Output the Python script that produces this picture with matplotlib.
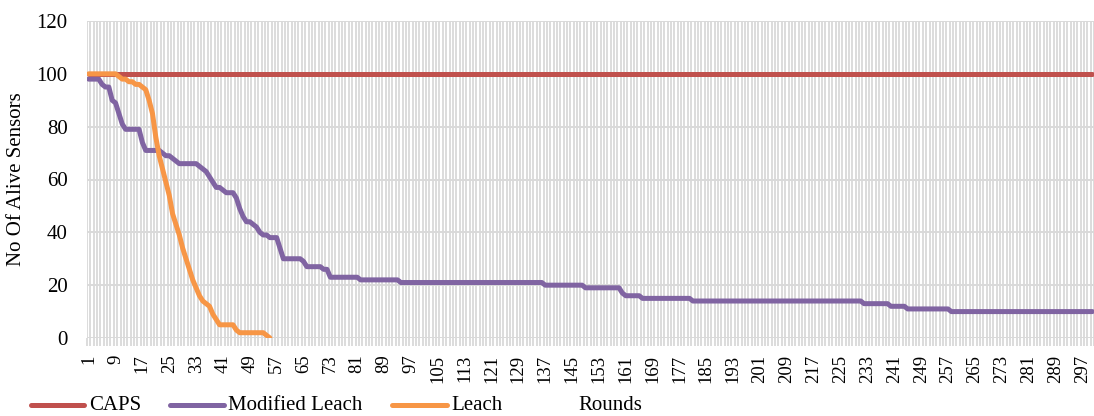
import numpy as np
import matplotlib
matplotlib.use("Agg")
import matplotlib.pyplot as plt
from matplotlib.lines import Line2D

# ---- data ----
n_rounds = 300
rounds = np.arange(1, n_rounds + 1)

caps_level = 100

# Modified Leach: step levels and how many rounds each level lasts
mod_leach_levels = [98, 96, 95, 90, 89, 85, 81, 79, 74, 71, 70, 69, 68, 67, 66, 65, 64, 63, 61,
                    59, 57, 56, 55, 53, 49, 46, 44, 43, 42, 40, 39, 38, 34, 30, 29, 27, 26, 23,
                    22, 21, 20, 19, 17, 16, 15, 14, 13, 12, 11, 10]
mod_leach_runs = [4, 1, 2, 1, 1, 1, 1, 5, 1, 5, 1, 2, 1, 1, 6, 1, 1, 1, 1,
                  1, 2, 1, 3, 1, 1, 1, 2, 1, 1, 1, 2, 3, 1, 6, 1, 5, 2, 9,
                  12, 43, 12, 11, 1, 5, 15, 51, 8, 5, 13, 43]

# Leach: alive sensors per round until all dead
leach_values = [100, 100, 100, 100, 100, 100, 100, 100, 100, 99,
                98, 98, 97, 97, 96, 96, 95, 94, 90, 85,
                76, 69, 64, 59, 54, 47, 43, 39, 34, 30,
                26, 22, 19, 16, 14, 13, 12, 9, 7, 5,
                5, 5, 5, 5, 3, 2, 2, 2, 2, 2,
                2, 2, 2, 1, 0]

y_ticks = [0, 20, 40, 60, 80, 100, 120]
x_tick_labels = list(range(1, 298, 8))
series_names = ['CAPS', 'Modified Leach', 'Leach']

caps = np.full(n_rounds, caps_level)
mod_leach = np.repeat(mod_leach_levels, mod_leach_runs)[:n_rounds]
leach = np.array(leach_values)

# ---- plot ----
plt.rcParams['font.family'] = ['Liberation Serif', 'DejaVu Serif']
W, H = 1094, 416
fig = plt.figure(figsize=(W / 100, H / 100), dpi=100)
ax = fig.add_axes([87 / W, 1 - 338 / H, 1 - 87 / W, (338 - 21) / H])

grid_c = '#D9D9D9'
for b in np.arange(0.5, n_rounds + 1, 1):
    ax.axvline(b, color=grid_c, lw=1.3, zorder=0)
for yv in y_ticks:
    ax.axhline(yv, color=grid_c, lw=1.4, zorder=0.5)

colors = ['#C0504D', '#8064A2', '#F79646']
lw = 3.6
ax.plot(rounds, caps, color=colors[0], lw=lw, zorder=3, solid_capstyle='round')
ax.plot(rounds[:len(mod_leach)], mod_leach, color=colors[1], lw=lw, zorder=3, solid_capstyle='round')
ax.plot(rounds[:len(leach)], leach, color=colors[2], lw=lw, zorder=4, solid_capstyle='round')

ax.set_xlim(0.5, 299.7)
ax.set_ylim(0, 120)
ax.set_yticks(y_ticks)
ax.tick_params(axis='y', length=0, pad=14, labelsize=15)
ax.set_xticks(x_tick_labels)
ax.set_xticklabels([str(v) for v in x_tick_labels], rotation=90)
ax.tick_params(axis='x', length=0, pad=12, labelsize=13.5)
ax.set_xticks(np.arange(0.5, n_rounds + 1, 1), minor=True)
ax.tick_params(axis='x', which='minor', length=6, width=1.3, color=grid_c, direction='out')
for s in ax.spines.values():
    s.set_visible(False)

fig.text(17 / W, 1 - 179.5 / H, 'No Of Alive Sensors', fontsize=15,
         rotation=90, ha='center', va='center')

# legend drawn in figure pixels
leg_y = 1 - 405 / H
handle_spans = [(31, 84), (170, 224), (392, 447)]
text_x = [89, 228, 451]
for (x0, x1), tx, name, c in zip(handle_spans, text_x, series_names, colors):
    fig.add_artist(Line2D([x0 / W, x1 / W], [leg_y, leg_y], color=c, lw=lw,
                          solid_capstyle='round', transform=fig.transFigure))
    fig.text(tx / W, leg_y, name, fontsize=15, va='center', ha='left')
fig.text(578 / W, leg_y, 'Rounds', fontsize=15, va='center', ha='left')

fig.savefig('out.png', dpi=100)
